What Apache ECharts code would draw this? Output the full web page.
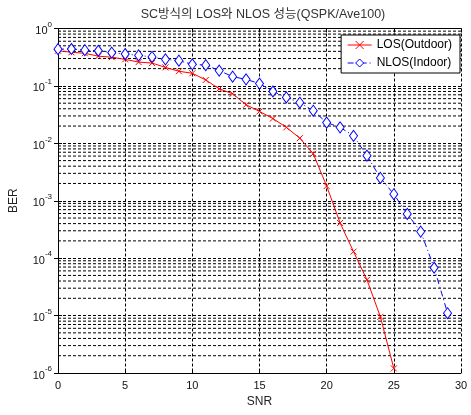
<!DOCTYPE html>
<html><head><meta charset="utf-8">
<script src="https://cdn.jsdelivr.net/npm/echarts@6/dist/echarts.min.js"></script>
<style>html,body{margin:0;padding:0;background:#fff}#c{width:471px;height:415px}</style>
</head><body><div id="c"></div>
<script>
const snrLOS = [0,1,2,3,4,5,6,7,8,9,10,11,12,13,14,15,16,17,18,19,20,21,22,23,24,25];
const berLOS = [0.41,0.385,0.37,0.33,0.316,0.29,0.26,0.25,0.21,0.18,0.166,0.127,0.089,0.073,0.047,0.036,0.027,0.019,0.0123,0.0066,0.0018,4.1e-4,1.3e-4,4.2e-5,9.5e-6,1.2e-6];
const snrNLOS = [0,1,2,3,4,5,6,7,8,9,10,11,12,13,14,15,16,17,18,19,20,21,22,23,24,25,26,27,28,29];
const berNLOS = [0.436,0.44,0.42,0.41,0.38,0.36,0.34,0.32,0.29,0.275,0.238,0.23,0.185,0.145,0.13,0.11,0.08,0.063,0.051,0.037,0.023,0.019,0.0135,0.0061,0.0025,0.0013,5.9e-4,2.9e-4,6.8e-5,1.1e-5];
const xTicks = [0,5,10,15,20,25,30];

const FONT = '"Liberation Sans", Arial, "Noto Sans CJK KR", sans-serif';
const minorVals = [];
for (let e = -6; e < 0; e++) for (let k = 2; k <= 9; k++) minorVals.push(k * Math.pow(10, e));
const dash = [3, 2];

const minorSeries = minorVals.map(v => ({
  type: 'line', silent: true, z: 1, symbol: 'none', animation: false,
  data: [[0, v], [30, v]],
  lineStyle: {color: '#000', type: dash, width: 1},
  tooltip: {show: false}
}));

const chart = echarts.init(document.getElementById('c'), null, {renderer: 'canvas'});
chart.setOption({
  backgroundColor: '#fff',
  animation: false,
  title: {
    text: 'SC방식의 LOS와 NLOS 성능(QSPK/Ave100)',
    left: 258, top: 3, textAlign: 'center',
    textStyle: {fontFamily: FONT, fontSize: 12.5, fontWeight: 'normal', color: '#333'}
  },
  grid: {left: 56, top: 28.5, right: 10, bottom: 42, containLabel: false},
  legend: {
    orient: 'vertical', right: 11, top: 35, z: 20,
    backgroundColor: '#fff', borderColor: '#000', borderWidth: 1,
    padding: [4, 8, 4, 6], itemGap: 6, itemWidth: 24, itemHeight: 10,
    textStyle: {fontFamily: FONT, fontSize: 12, color: '#000'},
    lineStyle: {width: 1},
    itemStyle: {borderWidth: 1},
    data: ['LOS(Outdoor)', 'NLOS(Indoor)']
  },
  xAxis: [{
    type: 'value', min: 0, max: 30, interval: 5,
    name: 'SNR', nameLocation: 'middle', nameGap: 22,
    nameTextStyle: {fontFamily: FONT, fontSize: 12, color: '#222'},
    axisLine: {show: true, lineStyle: {color: '#000', width: 1}},
    axisTick: {show: true, inside: true, length: 4, lineStyle: {color: '#000'}},
    axisLabel: {fontFamily: FONT, fontSize: 11, color: '#111', margin: 7,
      formatter: v => xTicks.includes(v) ? String(v) : ''},
    splitLine: {show: true, lineStyle: {color: '#000', type: dash, width: 1}}
  }, {
    type: 'value', min: 0, max: 30, interval: 5, position: 'top',
    axisLine: {show: true, onZero: false, lineStyle: {color: '#000', width: 1}},
    axisTick: {show: true, inside: true, length: 4, lineStyle: {color: '#000'}},
    axisLabel: {show: false}, splitLine: {show: false}
  }],
  yAxis: [{
    type: 'log', logBase: 10, min: 1e-6, max: 1,
    name: 'BER', nameLocation: 'middle', nameGap: 38, nameRotate: 90,
    nameTextStyle: {fontFamily: FONT, fontSize: 12, color: '#222'},
    axisLine: {show: true, lineStyle: {color: '#000', width: 1}},
    axisTick: {show: true, inside: true, length: 4, lineStyle: {color: '#000'}},
    axisLabel: {
      fontFamily: FONT, margin: 6,
      formatter: v => {
        const e = Math.round(Math.log10(v));
        return '{b|10}{s|' + e + '}';
      },
      rich: {
        b: {fontFamily: FONT, fontSize: 11, color: '#111', verticalAlign: 'bottom'},
        s: {fontFamily: FONT, fontSize: 8, color: '#111', verticalAlign: 'top', padding: [0, 0, 8, 0]}
      }
    },
    splitLine: {show: true, lineStyle: {color: '#000', type: dash, width: 1}}
  }, {
    type: 'log', logBase: 10, min: 1e-6, max: 1, position: 'right',
    axisLine: {show: true, lineStyle: {color: '#000', width: 1}},
    axisTick: {show: true, inside: true, length: 4, lineStyle: {color: '#000'}},
    axisLabel: {show: false}, splitLine: {show: false}
  }],
  series: minorSeries.concat([{
    name: 'LOS(Outdoor)', type: 'line', z: 5,
    data: snrLOS.map((x, i) => [x, berLOS[i]]),
    color: '#ff0000',
    lineStyle: {color: '#ff0000', width: 1},
    itemStyle: {color: '#ff0000', borderColor: '#ff0000', borderWidth: 1},
    symbol: 'path://M0,0L10,10M10,0L0,10', symbolSize: 6, showSymbol: true, showAllSymbol: true
  }, {
    name: 'NLOS(Indoor)', type: 'line', z: 6,
    data: snrNLOS.map((x, i) => [x, berNLOS[i]]),
    color: '#0000ff',
    lineStyle: {color: '#0000ff', width: 1, type: [6, 3, 1, 3]},
    itemStyle: {color: '#ffffff', borderColor: '#0000ff', borderWidth: 1},
    symbol: 'diamond', symbolSize: [8, 11], showSymbol: true, showAllSymbol: true
  }])
});
</script></body></html>
